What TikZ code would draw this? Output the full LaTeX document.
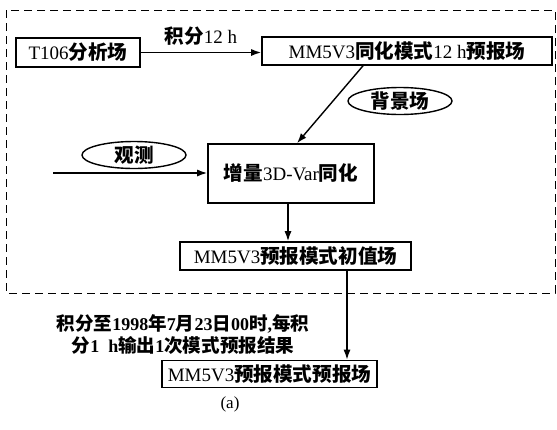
\documentclass[tikz,border=0pt]{standalone}
\usepackage{fontspec}
\setmainfont{Liberation Serif}
\newfontfamily\cjk{Noto Sans CJK SC}[Scale=1.03]
\usetikzlibrary{arrows.meta,shapes.geometric}
\newcommand\zh[1]{{\cjk\bfseries #1}}
\begin{document}
\begin{tikzpicture}[x=1pt,y=-1pt,
  font=\fontsize{19}{22}\selectfont,
  box/.style={draw, line width=1.6pt, inner sep=0pt, minimum height=28pt},
  ell/.style={draw, ellipse, line width=1.4pt, inner sep=0pt, minimum width=104pt, minimum height=27pt},
  conn/.style={line width=1.4pt, -{Latex[length=10pt,width=7pt]}},
  frame/.style={line width=1pt, dash pattern=on 8pt off 5pt}]
\useasboundingbox (0,0) rectangle (557,429);
\draw[frame] (6,10) rectangle (555,293);
\node[box, minimum width=124pt, minimum height=29pt] (t106) at (78,52.5) {T106\zh{分析场}};
\node[box, minimum width=290pt] (mm5) at (407,51) {MM5V3\zh{同化模式}12~h\zh{预报场}};
\node[ell] (bg) at (400,101) {\zh{背景场}};
\node[ell] (obs) at (134,155) {\zh{观测}};
\node[box, minimum width=166pt, minimum height=59pt] (inc) at (291,173.5) {\zh{增量}3D-Var\zh{同化}};
\node[box, minimum width=231pt] (init) at (295.5,256) {MM5V3\zh{预报模式初值场}};
\node[box, minimum width=215pt, minimum height=27pt] (fc) at (269.5,374) {MM5V3\zh{预报模式预报场}};
\node[align=center, font=\fontsize{18}{22}\selectfont\bfseries] (lbl) at (183,334)
  {\zh{积分至}1998\zh{年}7\zh{月}23\zh{日}00\zh{时},\zh{每积}\\\zh{分}1~~h\zh{输出}1\zh{次模式预报结果}};
\node[font=\fontsize{17}{20}\selectfont] (cap) at (230,404) {(a)};
\coordinate (obsin) at (53,173);
\draw[conn] (t106.east) -- (t106.east -| mm5.west) node[midway, above=3pt] {\zh{积分}12~h};
\draw[conn] ([xshift=-44pt]mm5.south) -- ([xshift=6pt]inc.north);
\draw[conn] (obsin) -- (obsin -| inc.west);
\draw[conn] ([xshift=-3pt]inc.south) -- ([xshift=-3pt]inc.south |- init.north);
\draw[conn] ([xshift=51.5pt]init.south) -- ([xshift=51.5pt]init.south |- fc.north);
\end{tikzpicture}
\end{document}
